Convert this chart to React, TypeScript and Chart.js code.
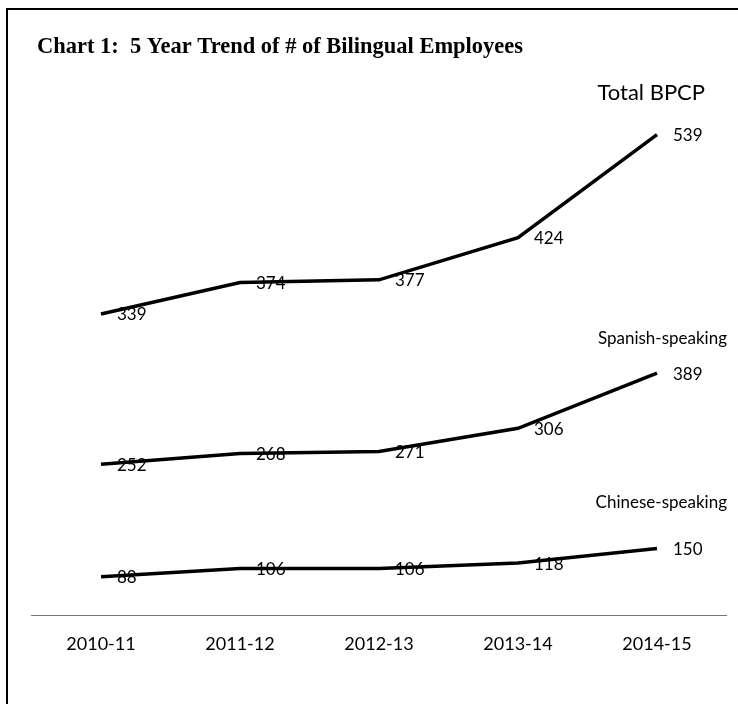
import React, { useEffect, useRef } from "react";
import { Chart, registerables } from "chart.js";
Chart.register(...registerables);

const years = ["2010-11", "2011-12", "2012-13", "2013-14", "2014-15"];
const totalBPCP = [339, 374, 377, 424, 539];
const spanishSpeaking = [252, 268, 271, 306, 389];
const chineseSpeaking = [88, 106, 106, 118, 150];
const seriesNames = ["Total BPCP", "Spanish-speaking", "Chinese-speaking"];
const chartTitle = "Chart 1:  5 Year Trend of # of Bilingual Employees";

const SANS = 'Lato, "Open Sans", sans-serif';

const decor = {
  id: "decor",
  beforeDraw(chart: any) {
    const ctx = chart.ctx;
    ctx.save();
    ctx.fillStyle = "#fff";
    ctx.fillRect(0, 0, chart.width, chart.height);
    ctx.fillStyle = "#000";
    ctx.fillRect(6, 8, 2, chart.height - 8);
    ctx.fillRect(6, 8, chart.width - 6, 2);
    ctx.font = 'bold 23px "Liberation Serif"';
    ctx.textBaseline = "alphabetic";
    ctx.textAlign = "left";
    const w = ctx.measureText(chartTitle).width;
    const sx = 486 / w;
    ctx.translate(37, 53);
    ctx.scale(sx, 1);
    ctx.fillText(chartTitle, 0, 0);
    ctx.restore();
  },
  afterDatasetsDraw(chart: any) {
    const ctx = chart.ctx;
    ctx.save();
    ctx.fillStyle = "#000";
    const nameDy = [-42, -35, -46];
    const nameDx = [48, 70, 70];
    const nameFonts = [22, 17, 17];
    chart.data.datasets.forEach((ds: any, di: number) => {
      const meta = chart.getDatasetMeta(di);
      ctx.font = `17px ${SANS}`;
      ctx.textAlign = "left";
      ctx.textBaseline = "middle";
      meta.data.forEach((pt: any, i: number) => {
        ctx.fillText(String(ds.data[i]), pt.x + 16, pt.y + 1);
      });
      const last = meta.data[meta.data.length - 1];
      ctx.font = `${nameFonts[di]}px ${SANS}`;
      ctx.textAlign = "right";
      ctx.fillText(seriesNames[di], last.x + nameDx[di], last.y + nameDy[di]);
    });
    ctx.restore();
  },
};

export default function App() {
  const ref = useRef<HTMLCanvasElement>(null);
  useEffect(() => {
    if (!ref.current) return;
    const lineStyle = {
      borderColor: "#000",
      backgroundColor: "#000",
      borderWidth: 3.5,
      pointRadius: 0,
      tension: 0,
      fill: false,
    };
    const chart = new Chart(ref.current, {
      type: "line",
      data: {
        labels: years,
        datasets: [
          { label: seriesNames[0], data: totalBPCP, yAxisID: "yTotal", ...lineStyle },
          { label: seriesNames[1], data: spanishSpeaking, yAxisID: "ySpanish", ...lineStyle },
          { label: seriesNames[2], data: chineseSpeaking, yAxisID: "yChinese", ...lineStyle },
        ],
      },
      options: {
        animation: false,
        responsive: false,
        layout: { padding: { left: 31.5, right: 11.5, top: 60, bottom: 31 } },
        plugins: { legend: { display: false }, tooltip: { enabled: false }, title: { display: false } },
        scales: {
          x: {
            offset: true,
            grid: { display: false, drawTicks: false },
            border: { display: true, color: "#777", width: 1, dash: [2, 1] },
            ticks: { color: "#000", font: { family: SANS, size: 18 }, padding: 18 },
          },
          yTotal: { display: false, min: 2.8, max: 622.2 },
          ySpanish: { display: false, min: 24.6, max: 859.8 },
          yChinese: { display: false, min: 2.5, max: 1227.6 },
        },
      },
      plugins: [decor],
    });
    return () => chart.destroy();
  }, []);
  return (
    <div style={{ position: "fixed", left: 0, top: 0, width: 738, height: 704, background: "#fff" }}>
      <canvas ref={ref} width={738} height={704} style={{ width: 738, height: 704 }} />
    </div>
  );
}
